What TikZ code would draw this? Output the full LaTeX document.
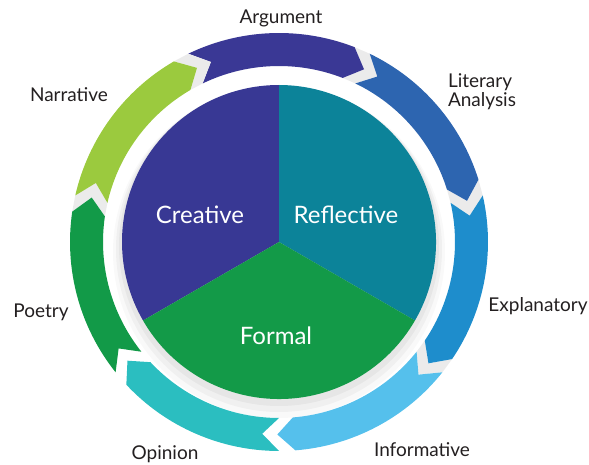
\documentclass[tikz,border=0pt]{standalone}
\usepackage{fontspec}
\setmainfont{Lato}
\definecolor{argumentcol}{HTML}{3A3895}
\definecolor{literarycol}{HTML}{2D65B0}
\definecolor{explanatorycol}{HTML}{1E8DCC}
\definecolor{informativecol}{HTML}{55C0EC}
\definecolor{opinioncol}{HTML}{2BBEC0}
\definecolor{poetrycol}{HTML}{129A48}
\definecolor{narrativecol}{HTML}{9BCA3E}
\definecolor{creativecol}{HTML}{383894}
\definecolor{reflectivecol}{HTML}{0C8399}
\definecolor{formalcol}{HTML}{139A48}
\definecolor{labeltext}{HTML}{231F20}
\tikzset{
	outerlabel/.style={font=\fontsize{19}{19}\selectfont, text=labeltext, inner sep=0pt},
	pielabel/.style={font=\fontsize{24}{26}\selectfont, text=white, inner sep=0pt},
	gapfill/.style={fill=gray!16},
}
\begin{document}
\begin{tikzpicture}[x=1pt, y=1pt]
	\pgfmathsetmacro{\rPie}{157};
	\pgfmathsetmacro{\rIn}{176};
	\pgfmathsetmacro{\rOut}{209};
	\pgfmathsetmacro{\rMid}{192.5};
	\pgfmathsetmacro{\aS}{25.714};
	\pgfmathsetmacro{\hEnd}{-21.214};
	\pgfmathsetmacro{\hTip}{-26.214};
	\pgfmathsetmacro{\nTip}{20.714};
	\pgfmathsetmacro{\gTip}{-30.714};
	\useasboundingbox (0,0) rectangle (589,464);
%
	\begin{scope}[shift={(279,222)}]
		% shadow below the pie
		\fill[black, opacity=0.025] (0,-10) circle[radius=\rPie+9];
		\fill[black, opacity=0.035] (0,-7) circle[radius=\rPie+6];
		\fill[black, opacity=0.045] (0,-4) circle[radius=\rPie+3];
		\fill[creativecol] (0,0) -- (90:\rPie) arc[start angle=90, end angle=210, radius=\rPie] -- cycle;
		\fill[reflectivecol] (0,0) -- (-30:\rPie) arc[start angle=-30, end angle=90, radius=\rPie] -- cycle;
		\fill[formalcol] (0,0) -- (210:\rPie) arc[start angle=210, end angle=330, radius=\rPie] -- cycle;
		\begin{scope}[rotate=90]
			\fill[gapfill] (\hEnd:\rOut) -- (\hTip:\rMid) -- (\hEnd:\rIn) -- (-\aS:\rIn) -- (\gTip:\rMid) -- (-\aS:\rOut) -- cycle;
			\fill[argumentcol] (\aS:\rOut) arc[start angle=\aS, end angle=\hEnd, radius=\rOut] -- (\hTip:\rMid) -- (\hEnd:\rIn) arc[start angle=\hEnd, end angle=\aS, radius=\rIn] -- (\nTip:\rMid) -- cycle;
		\end{scope}
		\begin{scope}[rotate=38.571]
			\fill[gapfill] (\hEnd:\rOut) -- (\hTip:\rMid) -- (\hEnd:\rIn) -- (-\aS:\rIn) -- (\gTip:\rMid) -- (-\aS:\rOut) -- cycle;
			\fill[literarycol] (\aS:\rOut) arc[start angle=\aS, end angle=\hEnd, radius=\rOut] -- (\hTip:\rMid) -- (\hEnd:\rIn) arc[start angle=\hEnd, end angle=\aS, radius=\rIn] -- (\nTip:\rMid) -- cycle;
		\end{scope}
		\begin{scope}[rotate=-12.857]
			\fill[gapfill] (\hEnd:\rOut) -- (\hTip:\rMid) -- (\hEnd:\rIn) -- (-\aS:\rIn) -- (\gTip:\rMid) -- (-\aS:\rOut) -- cycle;
			\fill[explanatorycol] (\aS:\rOut) arc[start angle=\aS, end angle=\hEnd, radius=\rOut] -- (\hTip:\rMid) -- (\hEnd:\rIn) arc[start angle=\hEnd, end angle=\aS, radius=\rIn] -- (\nTip:\rMid) -- cycle;
		\end{scope}
		\begin{scope}[rotate=-64.286]
			\fill[informativecol] (\aS:\rOut) arc[start angle=\aS, end angle=\hEnd, radius=\rOut] -- (\hTip:\rMid) -- (\hEnd:\rIn) arc[start angle=\hEnd, end angle=\aS, radius=\rIn] -- (\nTip:\rMid) -- cycle;
		\end{scope}
		\begin{scope}[rotate=-115.714]
			\fill[opinioncol] (\aS:\rOut) arc[start angle=\aS, end angle=\hEnd, radius=\rOut] -- (\hTip:\rMid) -- (\hEnd:\rIn) arc[start angle=\hEnd, end angle=\aS, radius=\rIn] -- (\nTip:\rMid) -- cycle;
		\end{scope}
		\begin{scope}[rotate=-167.143]
			\fill[gapfill] (\hEnd:\rOut) -- (\hTip:\rMid) -- (\hEnd:\rIn) -- (-\aS:\rIn) -- (\gTip:\rMid) -- (-\aS:\rOut) -- cycle;
			\fill[poetrycol] (\aS:\rOut) arc[start angle=\aS, end angle=\hEnd, radius=\rOut] -- (\hTip:\rMid) -- (\hEnd:\rIn) arc[start angle=\hEnd, end angle=\aS, radius=\rIn] -- (\nTip:\rMid) -- cycle;
		\end{scope}
		\begin{scope}[rotate=141.429]
			\fill[gapfill] (\hEnd:\rOut) -- (\hTip:\rMid) -- (\hEnd:\rIn) -- (-\aS:\rIn) -- (\gTip:\rMid) -- (-\aS:\rOut) -- cycle;
			\fill[narrativecol] (\aS:\rOut) arc[start angle=\aS, end angle=\hEnd, radius=\rOut] -- (\hTip:\rMid) -- (\hEnd:\rIn) arc[start angle=\hEnd, end angle=\aS, radius=\rIn] -- (\nTip:\rMid) -- cycle;
		\end{scope}
	\end{scope}
%
	\node[pielabel] (creative) at (200,249) {Creative};
	\node[pielabel] (reflective) at (346,249) {Reflective};
	\node[pielabel] (formal) at (276,128) {Formal};
%
	\node[outerlabel] (argument) at (281,446) {Argument};
	\node[outerlabel, align=left] (literary) at (482,372) {Literary\\Analysis};
	\node[outerlabel] (explanatory) at (538,158) {Explanatory};
	\node[outerlabel] (informative) at (422,14) {Informative};
	\node[outerlabel] (opinion) at (165,10) {Opinion};
	\node[outerlabel] (poetry) at (41,152) {Poetry};
	\node[outerlabel] (narrative) at (69,369) {Narrative};
\end{tikzpicture}
\end{document}
